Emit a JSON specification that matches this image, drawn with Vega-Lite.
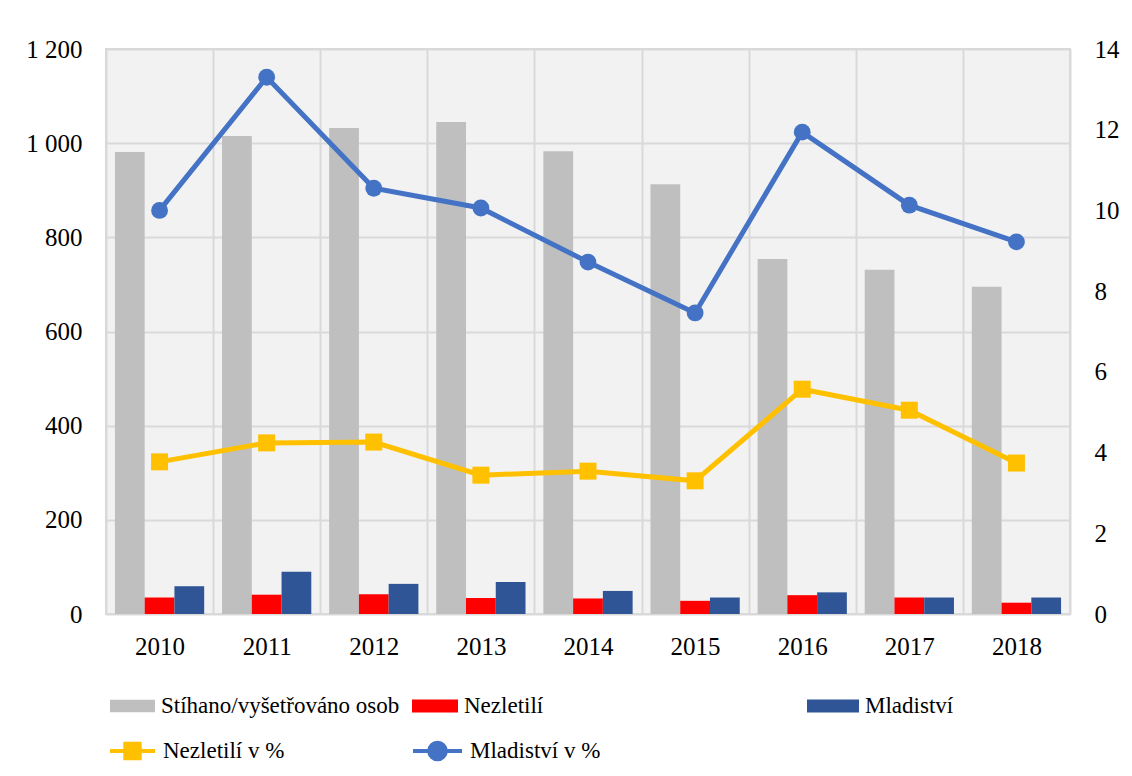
{
  "$schema": "https://vega.github.io/schema/vega-lite/v6.json",
  "width": 964,
  "height": 565,
  "autosize": {"type": "none"},
  "padding": {"left": 106, "top": 49, "right": 62, "bottom": 162},
  "background": "#ffffff",
  "config": {
    "font": "Liberation Serif",
    "view": {"fill": "#f2f2f2", "stroke": "#d9d9d9", "strokeWidth": 2},
    "axis": {
      "labelFont": "Liberation Serif",
      "labelFontSize": 25,
      "labelColor": "#000000",
      "gridColor": "#d9d9d9",
      "gridWidth": 2,
      "ticks": false,
      "domain": false
    },
    "legend": {
      "labelFont": "Liberation Serif",
      "labelFontSize": 23,
      "labelColor": "#000000",
      "labelLimit": 500,
      "padding": 0,
      "labelOffset": 6
    }
  },
  "datasets": {
    "bars": [
      {"year": "2010", "series": "Stíhano/vyšetřováno osob", "value": 981},
      {"year": "2011", "series": "Stíhano/vyšetřováno osob", "value": 1015},
      {"year": "2012", "series": "Stíhano/vyšetřováno osob", "value": 1032},
      {"year": "2013", "series": "Stíhano/vyšetřováno osob", "value": 1045},
      {"year": "2014", "series": "Stíhano/vyšetřováno osob", "value": 983},
      {"year": "2015", "series": "Stíhano/vyšetřováno osob", "value": 913},
      {"year": "2016", "series": "Stíhano/vyšetřováno osob", "value": 754},
      {"year": "2017", "series": "Stíhano/vyšetřováno osob", "value": 731},
      {"year": "2018", "series": "Stíhano/vyšetřováno osob", "value": 695},
      {"year": "2010", "series": "Nezletilí", "value": 35},
      {"year": "2011", "series": "Nezletilí", "value": 41},
      {"year": "2012", "series": "Nezletilí", "value": 42},
      {"year": "2013", "series": "Nezletilí", "value": 34},
      {"year": "2014", "series": "Nezletilí", "value": 33},
      {"year": "2015", "series": "Nezletilí", "value": 28},
      {"year": "2016", "series": "Nezletilí", "value": 40},
      {"year": "2017", "series": "Nezletilí", "value": 35},
      {"year": "2018", "series": "Nezletilí", "value": 24},
      {"year": "2010", "series": "Mladiství", "value": 59},
      {"year": "2011", "series": "Mladiství", "value": 90},
      {"year": "2012", "series": "Mladiství", "value": 64},
      {"year": "2013", "series": "Mladiství", "value": 68},
      {"year": "2014", "series": "Mladiství", "value": 49},
      {"year": "2015", "series": "Mladiství", "value": 35},
      {"year": "2016", "series": "Mladiství", "value": 46},
      {"year": "2017", "series": "Mladiství", "value": 35},
      {"year": "2018", "series": "Mladiství", "value": 35}
    ],
    "lines": [
      {"year": "2010", "series": "Nezletilí v %", "pct": 3.77},
      {"year": "2011", "series": "Nezletilí v %", "pct": 4.24},
      {"year": "2012", "series": "Nezletilí v %", "pct": 4.26},
      {"year": "2013", "series": "Nezletilí v %", "pct": 3.44},
      {"year": "2014", "series": "Nezletilí v %", "pct": 3.54},
      {"year": "2015", "series": "Nezletilí v %", "pct": 3.30},
      {"year": "2016", "series": "Nezletilí v %", "pct": 5.57},
      {"year": "2017", "series": "Nezletilí v %", "pct": 5.05},
      {"year": "2018", "series": "Nezletilí v %", "pct": 3.74},
      {"year": "2010", "series": "Mladiství v %", "pct": 10.0},
      {"year": "2011", "series": "Mladiství v %", "pct": 13.3},
      {"year": "2012", "series": "Mladiství v %", "pct": 10.55},
      {"year": "2013", "series": "Mladiství v %", "pct": 10.06},
      {"year": "2014", "series": "Mladiství v %", "pct": 8.72},
      {"year": "2015", "series": "Mladiství v %", "pct": 7.46},
      {"year": "2016", "series": "Mladiství v %", "pct": 11.94},
      {"year": "2017", "series": "Mladiství v %", "pct": 10.13},
      {"year": "2018", "series": "Mladiství v %", "pct": 9.22}
    ]
  },
  "encoding": {
    "x": {
      "field": "year",
      "type": "ordinal",
      "scale": {"paddingInner": 0, "paddingOuter": 0},
      "axis": {"title": null, "labelAngle": 0, "labelPadding": 20, "grid": true, "tickBand": "extent", "labelFont": "Liberation Serif"}
    }
  },
  "layer": [
    {
      "data": {"name": "bars"},
      "transform": [{"filter": "datum.series === 'Stíhano/vyšetřováno osob'"}],
      "mark": {"type": "bar"},
      "encoding": {
        "xOffset": {"field": "series", "type": "nominal", "scale": {"domain": ["Stíhano/vyšetřováno osob", "Nezletilí", "Mladiství"], "paddingInner": 0, "paddingOuter": 0.3}},
        "y": {
          "field": "value",
          "type": "quantitative",
          "scale": {"domain": [0, 1200], "nice": false},
          "axis": {"title": null, "orient": "left", "values": [0, 200, 400, 600, 800, 1000, 1200], "labelExpr": "replace(format(datum.value, ','), ',', ' ')", "labelPadding": 24, "grid": true, "labelFont": "Liberation Serif"}
        },
        "color": {
          "field": "series",
          "type": "nominal",
          "scale": {"domain": ["Stíhano/vyšetřováno osob"], "range": ["#bfbfbf"]},
          "legend": {"title": null, "orient": "none", "legendX": 4, "legendY": 634.5, "symbolType": "M-1,-0.28H1V0.28H-1Z", "symbolSize": 2025, "symbolStrokeWidth": 0, "labelFont": "Liberation Serif", "labelLimit": 500}
        }
      }
    },
    {
      "data": {"name": "bars"},
      "transform": [{"filter": "datum.series === 'Nezletilí'"}],
      "mark": {"type": "bar"},
      "encoding": {
        "xOffset": {"field": "series", "type": "nominal", "scale": {"domain": ["Stíhano/vyšetřováno osob", "Nezletilí", "Mladiství"], "paddingInner": 0, "paddingOuter": 0.3}},
        "y": {"field": "value", "type": "quantitative", "scale": {"domain": [0, 1200], "nice": false}, "axis": null},
        "color": {
          "field": "series",
          "type": "nominal",
          "scale": {"domain": ["Nezletilí"], "range": ["#ff0000"]},
          "legend": {"title": null, "orient": "none", "legendX": 306, "legendY": 634, "symbolType": "M-1,-0.28H1V0.28H-1Z", "symbolSize": 2116, "symbolStrokeWidth": 0, "labelFont": "Liberation Serif", "labelLimit": 500}
        }
      }
    },
    {
      "data": {"name": "bars"},
      "transform": [{"filter": "datum.series === 'Mladiství'"}],
      "mark": {"type": "bar"},
      "encoding": {
        "xOffset": {"field": "series", "type": "nominal", "scale": {"domain": ["Stíhano/vyšetřováno osob", "Nezletilí", "Mladiství"], "paddingInner": 0, "paddingOuter": 0.3}},
        "y": {"field": "value", "type": "quantitative", "scale": {"domain": [0, 1200], "nice": false}, "axis": null},
        "color": {
          "field": "series",
          "type": "nominal",
          "scale": {"domain": ["Mladiství"], "range": ["#2f5597"]},
          "legend": {"title": null, "orient": "none", "legendX": 701, "legendY": 631, "symbolType": "M-1,-0.25H1V0.25H-1Z", "symbolSize": 2704, "symbolStrokeWidth": 0, "labelFont": "Liberation Serif", "labelLimit": 500}
        }
      }
    },
    {
      "data": {"name": "lines"},
      "transform": [{"filter": "datum.series === 'Nezletilí v %'"}],
      "mark": {"type": "line", "strokeWidth": 5, "point": {"filled": true, "shape": "square", "size": 289, "opacity": 1}},
      "encoding": {
        "y": {
          "field": "pct",
          "type": "quantitative",
          "scale": {"domain": [0, 14], "nice": false},
          "axis": {"title": null, "orient": "right", "values": [0, 2, 4, 6, 8, 10, 12, 14], "labelPadding": 24, "grid": false, "labelAlign": "left", "labelFont": "Liberation Serif"}
        },
        "color": {
          "field": "series",
          "type": "nominal",
          "scale": {"domain": ["Nezletilí v %"], "range": ["#ffc000"]},
          "legend": {
            "title": null, "orient": "none", "legendX": 2, "legendY": 677.5,
            "symbolType": "M-1,0H1M-0.32,-0.32H0.32V0.32H-0.32Z", "symbolSize": 2025, "labelFont": "Liberation Serif", "labelLimit": 500,
            "encode": {"symbols": {"update": {"fill": {"value": "#ffc000"}, "stroke": {"value": "#ffc000"}, "strokeWidth": {"value": 4}, "opacity": {"value": 1}}}}
          }
        }
      }
    },
    {
      "data": {"name": "lines"},
      "transform": [{"filter": "datum.series === 'Mladiství v %'"}],
      "mark": {"type": "line", "strokeWidth": 5, "point": {"filled": true, "shape": "circle", "size": 283, "opacity": 1}},
      "encoding": {
        "y": {"field": "pct", "type": "quantitative", "scale": {"domain": [0, 14], "nice": false}, "axis": null},
        "color": {
          "field": "series",
          "type": "nominal",
          "scale": {"domain": ["Mladiství v %"], "range": ["#4472c4"]},
          "legend": {
            "title": null, "orient": "none", "legendX": 305, "legendY": 675.5,
            "symbolType": "M-1,0H1M-0.34,0A0.34,0.34 0 1,0 0.34,0A0.34,0.34 0 1,0 -0.34,0Z", "symbolSize": 2401, "labelFont": "Liberation Serif", "labelLimit": 500,
            "encode": {"symbols": {"update": {"fill": {"value": "#4472c4"}, "stroke": {"value": "#4472c4"}, "strokeWidth": {"value": 4}, "opacity": {"value": 1}}}}
          }
        }
      }
    }
  ],
  "resolve": {
    "scale": {"y": "independent", "color": "independent"},
    "legend": {"color": "independent"}
  }
}
